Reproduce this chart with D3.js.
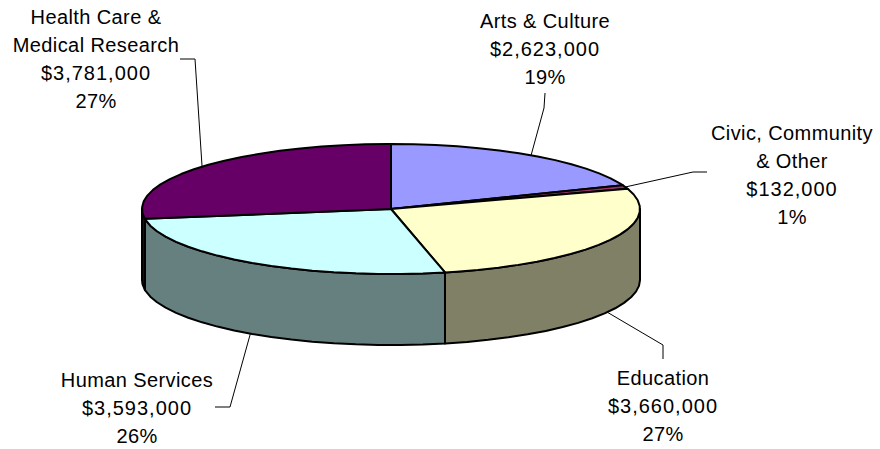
<!DOCTYPE html>
<html>
<head>
<meta charset="utf-8">
<script src="https://cdnjs.cloudflare.com/ajax/libs/d3/7.8.5/d3.min.js"></script>
<style>
  html, body { margin: 0; padding: 0; background: #fff; }
  svg { display: block; }
</style>
</head>
<body>
<div id="chart"></div>
<script>
// === Data ===
const categories = ['Arts & Culture', 'Civic, Community & Other', 'Education', 'Human Services', 'Health Care & Medical Research'];
const values = [2623000, 132000, 3660000, 3593000, 3781000];
const labelLines = [['Arts & Culture'], ['Civic, Community', '& Other'], ['Education'], ['Human Services'], ['Health Care &', 'Medical Research']];
const topColors = ['#9999ff', '#993366', '#ffffcc', '#ccffff', '#660066'];
const sideColors = ['#4d4d80', '#4d1a33', '#808066', '#668080', '#330033'];

// Label placement, one per slice: centre x, first baseline
const labelCenters = [[545, 28], [792, 140], [663, 385], [137, 387], [96, 24]];
const leaderBends = [
  [[544, 108], [545, 93]],
  [[693, 172], [707, 172]],
  [[663, 345], [663, 359]],
  [[230, 407], [215, 407]],
  [[195, 59], [180, 59]]
];

const WIDTH = 880;
const HEIGHT = 449;
const CX = 391;
const CY = 209;
const RX = 249;
const RY = 65;
const DEPTH = 71;
const LINE_HEIGHT = 28;
const STEP = 0.09; // rim is faceted in the original

const svg = d3.select('#chart').append('svg')
  .attr('width', WIDTH)
  .attr('height', HEIGHT)
  .style('font-family', '"Liberation Sans", Arial, sans-serif');

const arcs = d3.pie().sort(null)(values);

// Ellipse position for a pie angle (0 = up, clockwise)
const rimX = a => CX + RX * Math.sin(a);
const rimY = (a, drop = 0) => CY - RY * Math.cos(a) + drop;

function rimAngles(a0, a1) {
  const out = d3.range(a0, a1, STEP);
  out.push(a1);
  return out;
}

const line = d3.line().curve(d3.curveLinear);

// Side walls: only the front half of the ellipse shows
const sides = svg.append('g').attr('class', 'sides');
arcs.forEach((arc, i) => {
  const a0 = Math.max(arc.startAngle, Math.PI / 2);
  const a1 = Math.min(arc.endAngle, Math.PI * 1.5);
  if (a1 <= a0) return;
  const angles = rimAngles(a0, a1);
  const pts = angles.map(a => [rimX(a), rimY(a)])
    .concat(angles.slice().reverse().map(a => [rimX(a), rimY(a, DEPTH)]));
  sides.append('path')
    .attr('d', line(pts) + 'Z')
    .attr('fill', sideColors[i])
    .attr('stroke', '#000')
    .attr('stroke-width', 2)
    .attr('stroke-linejoin', 'round');
});

// Top face
const tops = svg.append('g').attr('class', 'tops');
arcs.forEach((arc, i) => {
  const pts = [[CX, CY]].concat(rimAngles(arc.startAngle, arc.endAngle).map(a => [rimX(a), rimY(a)]));
  tops.append('path')
    .attr('d', line(pts) + 'Z')
    .attr('fill', topColors[i])
    .attr('stroke', '#000')
    .attr('stroke-width', 2)
    .attr('stroke-linejoin', 'round');
});

// Leader lines start at the middle of each slice's rim
const leaders = svg.append('g').attr('class', 'leaders');
arcs.forEach((arc, i) => {
  const mid = (arc.startAngle + arc.endAngle) / 2;
  const front = mid > Math.PI / 2 && mid < Math.PI * 1.5;
  const start = [rimX(mid), rimY(mid, front ? DEPTH : 0)];
  leaders.append('path')
    .attr('d', line([start].concat(leaderBends[i])))
    .attr('fill', 'none')
    .attr('stroke', '#000')
    .attr('stroke-width', 1);
});

// Labels: name lines, amount, percent
const total = d3.sum(values);
const fmtMoney = d3.format('$,');
const fmtPct = d3.format('.0%');
const labels = svg.append('g').attr('class', 'labels');
categories.forEach((name, i) => {
  const names = labelLines[i];
  const rows = names.concat([fmtMoney(values[i]), fmtPct(values[i] / total)]);
  const text = labels.append('text')
    .attr('text-anchor', 'middle')
    .attr('font-size', '20px')
    .attr('fill', '#000');
  rows.forEach((row, r) => {
    text.append('tspan')
      .attr('x', labelCenters[i][0])
      .attr('y', labelCenters[i][1] + r * LINE_HEIGHT)
      .attr('letter-spacing', r === names.length ? 1 : 0.4)
      .text(row);
  });
});
</script>
</body>
</html>
